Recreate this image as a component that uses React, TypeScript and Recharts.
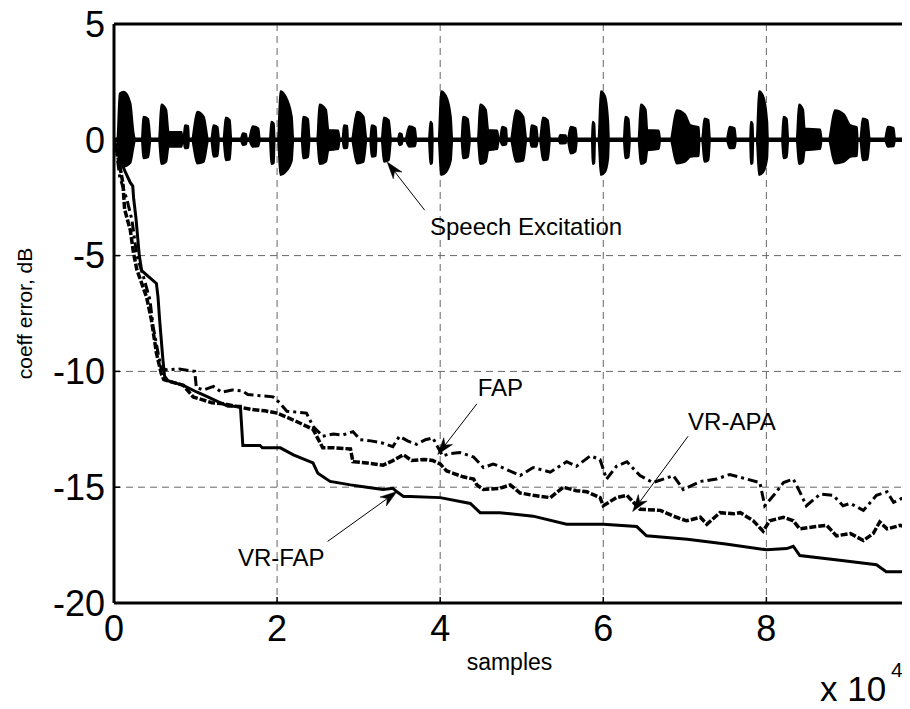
import React from 'react';
import {
  ComposedChart,
  Line,
  Area,
  XAxis,
  YAxis,
  CartesianGrid,
  ReferenceLine,
  ReferenceDot,
} from 'recharts';

// x in units of 1e4 samples, y in dB
const xTicks = [0, 2, 4, 6, 8];
const yTicks = [-20, -15, -10, -5, 0, 5];

// Speech excitation envelope: [x, upper, lower]
const speechEnvelope: [number, number, number][] = [
  [0.0, 0, 0],
  [0.04, 0, 0], [0.07, 2.0, -1.1], [0.12, 2.07, -1.16], [0.2, 1.6, -1.0], [0.24, 0.3, -0.3], [0.26, 0, 0],
  [0.34, 0, 0], [0.36, 0.99, -0.8], [0.42, 0.9, -0.75], [0.45, 0, 0],
  [0.55, 0, 0], [0.58, 1.52, -1.05], [0.64, 1.3, -0.95], [0.67, 0.34, -0.3], [0.83, 0.34, -0.3], [0.84, 0, 0],
  [0.85, 0, 0], [0.87, 0.63, -0.37], [0.91, 0.6, -0.35], [0.92, 0, 0],
  [0.95, 0, 0], [1.02, 1.21, -1.02], [1.1, 1.0, -0.95], [1.16, 0, 0],
  [1.19, 0, 0], [1.22, 0.63, -0.73], [1.27, 0.55, -0.7], [1.29, 0, 0],
  [1.34, 0, 0], [1.37, 0.96, -0.88], [1.42, 0.85, -0.85], [1.44, 0, 0],
  [1.55, 0, 0], [1.58, 0.28, -0.23], [1.62, 0.25, -0.2], [1.63, 0, 0],
  [1.65, 0, 0], [1.7, 0.59, -0.3], [1.77, 0.5, -0.28], [1.79, 0, 0],
  [1.91, 0, 0], [1.93, 0.78, -1.05], [1.96, 0.7, -1.0], [1.97, 0, 0],
  [2.01, 0, 0], [2.04, 2.1, -1.52], [2.1, 1.9, -1.4], [2.18, 1.0, -0.9], [2.2, 0, 0],
  [2.3, 0, 0], [2.32, 0.99, -0.8], [2.38, 0.9, -0.75], [2.4, 0, 0],
  [2.49, 0, 0], [2.52, 1.52, -1.05], [2.6, 1.3, -0.95], [2.63, 0.42, -0.45], [2.75, 0.4, -0.4], [2.77, 0, 0],
  [2.8, 0, 0], [2.82, 0.63, -0.37], [2.86, 0.6, -0.35], [2.87, 0, 0],
  [2.91, 0, 0], [2.98, 1.21, -1.02], [3.06, 1.0, -0.95], [3.1, 0, 0],
  [3.14, 0, 0], [3.16, 0.63, -0.73], [3.21, 0.55, -0.7], [3.22, 0, 0],
  [3.28, 0, 0], [3.31, 0.96, -0.95], [3.37, 0.85, -0.88], [3.4, 0, 0],
  [3.48, 0, 0], [3.5, 0.28, -0.23], [3.53, 0.25, -0.2], [3.54, 0, 0],
  [3.57, 0, 0], [3.62, 0.59, -0.3], [3.69, 0.5, -0.28], [3.71, 0, 0],
  [3.86, 0, 0], [3.88, 0.78, -1.05], [3.9, 0.7, -1.0], [3.91, 0, 0],
  [3.98, 0, 0], [4.01, 2.1, -1.52], [4.07, 1.9, -1.4], [4.13, 1.0, -0.9], [4.15, 0, 0],
  [4.26, 0, 0], [4.28, 0.99, -0.8], [4.34, 0.9, -0.75], [4.37, 0, 0],
  [4.46, 0, 0], [4.49, 1.52, -1.05], [4.56, 1.3, -0.95], [4.59, 0.42, -0.45], [4.7, 0.4, -0.4], [4.72, 0, 0],
  [4.73, 0, 0], [4.76, 0.56, -0.23], [4.81, 0.5, -0.2], [4.82, 0, 0],
  [4.86, 0, 0], [4.93, 1.28, -0.95], [5.02, 1.0, -0.9], [5.06, 0, 0],
  [5.1, 0, 0], [5.12, 0.63, -0.3], [5.18, 0.55, -0.3], [5.2, 0, 0],
  [5.22, 0, 0], [5.26, 0.96, -0.88], [5.32, 0.85, -0.85], [5.35, 0, 0],
  [5.45, 0, 0], [5.47, 0.21, -0.16], [5.54, 0.2, -0.15], [5.55, 0, 0],
  [5.56, 0, 0], [5.6, 0.56, -0.59], [5.66, 0.5, -0.5], [5.68, 0, 0],
  [5.86, 0, 0], [5.87, 0.78, -1.05], [5.89, 0.7, -1.0], [5.9, 0, 0],
  [5.94, 0, 0], [5.97, 2.1, -1.52], [6.02, 1.9, -1.4], [6.06, 0.8, -0.8], [6.07, 0, 0],
  [6.25, 0, 0], [6.27, 0.99, -0.8], [6.31, 0.9, -0.75], [6.33, 0, 0],
  [6.43, 0, 0], [6.46, 1.52, -1.05], [6.52, 1.3, -0.95], [6.54, 0.42, -0.45], [6.68, 0.4, -0.4], [6.7, 0, 0],
  [6.82, 0, 0], [6.9, 1.28, -1.02], [7.0, 1.1, -0.95], [7.07, 0.63, -0.73], [7.17, 0.55, -0.7], [7.18, 0, 0],
  [7.21, 0, 0], [7.24, 0.92, -0.95], [7.29, 0.85, -0.88], [7.31, 0, 0],
  [7.51, 0, 0], [7.55, 0.56, -0.37], [7.61, 0.5, -0.35], [7.63, 0, 0],
  [7.8, 0, 0], [7.81, 0.78, -1.05], [7.83, 0.7, -1.0], [7.84, 0, 0],
  [7.88, 0, 0], [7.91, 2.1, -1.52], [7.96, 1.9, -1.4], [8.01, 0.8, -0.8], [8.02, 0, 0],
  [8.19, 0, 0], [8.21, 0.99, -0.8], [8.25, 0.9, -0.75], [8.27, 0, 0],
  [8.37, 0, 0], [8.4, 1.52, -1.05], [8.45, 1.3, -0.95], [8.47, 0.49, -0.45], [8.66, 0.45, -0.4], [8.68, 0, 0],
  [8.76, 0, 0], [8.84, 1.28, -1.02], [8.95, 1.1, -0.95], [9.03, 0.63, -0.73], [9.11, 0.55, -0.7], [9.12, 0, 0],
  [9.15, 0, 0], [9.18, 0.92, -0.88], [9.24, 0.85, -0.85], [9.27, 0, 0],
  [9.45, 0, 0], [9.49, 0.56, -0.3], [9.56, 0.5, -0.28], [9.58, 0, 0],
  [9.7, 0, 0],
];

// VR-FAP (solid)
const vrFap: [number, number][] = [
  [0, 0], [0.03, -0.4], [0.08, -0.9], [0.14, -1.4], [0.2, -1.85], [0.23, -2.0], [0.24, -2.5],
  [0.27, -3.4], [0.31, -5.0], [0.34, -5.65], [0.42, -5.9], [0.52, -6.2], [0.54, -6.8], [0.56, -7.8],
  [0.6, -9.5], [0.62, -10.2], [0.66, -10.4], [0.85, -10.6], [1.02, -10.9], [1.15, -11.1], [1.3, -11.35],
  [1.4, -11.5], [1.55, -11.5], [1.58, -13.2], [1.79, -13.2], [1.82, -13.3], [2.04, -13.3], [2.2, -13.6],
  [2.44, -13.95], [2.5, -14.4], [2.65, -14.75], [2.9, -14.9], [3.1, -15.0], [3.3, -15.1], [3.42, -15.05],
  [3.47, -15.2], [3.55, -15.4], [3.63, -15.4], [4.0, -15.45], [4.37, -15.7], [4.49, -16.1], [4.73, -16.1],
  [5.14, -16.25], [5.55, -16.6], [6.0, -16.6], [6.41, -16.7], [6.53, -17.1], [7.03, -17.25], [7.5, -17.45],
  [8.0, -17.7], [8.25, -17.65], [8.33, -17.55], [8.41, -17.95], [8.9, -18.15], [9.35, -18.35], [9.47, -18.65],
  [9.7, -18.65],
];

// VR-APA (dashed)
const vrApa: [number, number][] = [
  [0, 0], [0.04, -0.6], [0.08, -1.3], [0.11, -1.9], [0.13, -3.0], [0.2, -3.9], [0.24, -4.9], [0.28, -5.6],
  [0.34, -6.2], [0.4, -6.8], [0.46, -7.8], [0.52, -9.2], [0.58, -10.1], [0.61, -10.35], [0.7, -10.45],
  [0.85, -10.6], [0.97, -11.1], [1.06, -11.2], [1.2, -11.35], [1.35, -11.4], [1.55, -11.55], [1.7, -11.65],
  [1.85, -11.7], [2.0, -11.8], [2.1, -11.95], [2.2, -12.1], [2.32, -12.3], [2.44, -12.5], [2.5, -12.9],
  [2.56, -13.3], [2.7, -13.3], [2.9, -13.35], [2.93, -13.9], [3.1, -13.95], [3.3, -14.05], [3.42, -13.85],
  [3.55, -13.6], [3.65, -13.85], [3.8, -13.8], [3.91, -13.85], [4.0, -14.0], [4.08, -14.3], [4.16, -14.4],
  [4.28, -14.55], [4.41, -14.65], [4.45, -14.9], [4.53, -15.1], [4.73, -15.05], [4.86, -14.9], [4.98, -15.25],
  [5.14, -15.35], [5.35, -15.45], [5.51, -15.0], [5.67, -15.15], [5.8, -15.2], [5.96, -15.45], [6.0, -15.8],
  [6.16, -15.45], [6.29, -15.35], [6.37, -15.65], [6.45, -15.95], [6.7, -16.0], [6.86, -16.25], [7.02, -16.45],
  [7.19, -16.3], [7.27, -16.6], [7.43, -16.1], [7.6, -16.15], [7.68, -16.1], [7.84, -16.45], [7.96, -16.9],
  [8.04, -16.45], [8.21, -16.3], [8.33, -16.45], [8.41, -16.8], [8.61, -16.7], [8.74, -16.65], [8.86, -17.1],
  [9.03, -17.0], [9.19, -17.3], [9.31, -17.0], [9.39, -16.5], [9.48, -16.8], [9.64, -16.65], [9.7, -16.7],
];

// FAP (dash-dot)
const fap: [number, number][] = [
  [0, 0], [0.03, -0.5], [0.07, -1.6], [0.16, -2.6], [0.22, -3.46], [0.28, -5.0], [0.36, -5.9], [0.44, -6.9],
  [0.48, -8.06], [0.54, -9.2], [0.58, -9.9], [0.65, -9.93], [0.8, -9.9], [0.99, -10.0], [1.01, -10.7],
  [1.1, -10.8], [1.22, -10.65], [1.32, -10.9], [1.45, -10.8], [1.58, -10.85], [1.64, -11.0], [1.8, -11.05],
  [1.95, -11.1], [2.03, -11.35], [2.12, -11.72], [2.36, -11.8], [2.44, -12.37], [2.56, -12.8], [2.69, -12.7],
  [2.8, -12.75], [2.93, -12.6], [3.02, -12.95], [3.15, -13.0], [3.3, -13.1], [3.42, -13.25], [3.5, -12.8],
  [3.6, -13.0], [3.71, -13.15], [3.82, -12.95], [3.91, -12.87], [4.03, -13.65], [4.12, -13.55], [4.24, -13.5],
  [4.41, -13.7], [4.53, -14.15], [4.65, -14.0], [4.73, -14.1], [4.98, -14.5], [5.14, -14.15], [5.35, -14.35],
  [5.55, -13.9], [5.67, -14.1], [5.84, -13.65], [5.96, -13.8], [6.04, -14.65], [6.16, -14.1], [6.29, -13.9],
  [6.45, -14.5], [6.61, -14.8], [6.86, -14.5], [6.98, -15.1], [7.19, -14.75], [7.39, -14.65], [7.55, -14.45],
  [7.76, -14.65], [7.92, -14.8], [7.98, -15.8], [8.09, -15.35], [8.21, -14.8], [8.33, -14.65], [8.41, -15.2],
  [8.49, -15.8], [8.66, -15.3], [8.82, -15.35], [8.94, -15.8], [9.03, -15.7], [9.19, -16.0], [9.35, -15.35],
  [9.48, -15.2], [9.56, -15.65], [9.68, -15.45],
];

// Annotations: label text, label anchor (x, y), arrow start, arrow tip
const annotations = [
  { text: 'Speech Excitation', at: [3.875, -3.74], from: [3.81, -3.04], to: [3.35, -0.96] },
  { text: 'FAP', at: [4.46, -10.7], from: [4.45, -11.4], to: [3.97, -13.59] },
  { text: 'VR-APA', at: [7.04, -12.16], from: [7.04, -12.8], to: [6.36, -16.05] },
  { text: 'VR-FAP', at: [1.52, -18.03], from: [2.62, -17.34], to: [3.47, -15.19] },
];

const FONT = '"Liberation Sans", Arial, Helvetica, sans-serif';

const speechData = speechEnvelope.map(([x, hi, lo]) => ({ x, range: [lo, hi] }));
const toXY = (pts: [number, number][]) => pts.map(([x, y]) => ({ x, y }));

const ArrowShape = (p: any) => {
  const { x1, y1, x2, y2 } = p;
  const dx = x2 - x1;
  const dy = y2 - y1;
  const L = Math.hypot(dx, dy) || 1;
  const ux = dx / L;
  const uy = dy / L;
  const hl = 17;
  const hw = 5.5;
  const bx = x2 - ux * hl;
  const by = y2 - uy * hl;
  const nx = x2 - ux * hl * 0.7;
  const ny = y2 - uy * hl * 0.7;
  const pts = `${x2},${y2} ${bx - uy * hw},${by + ux * hw} ${nx},${ny} ${bx + uy * hw},${by - ux * hw}`;
  return (
    <g>
      <line x1={x1} y1={y1} x2={nx} y2={ny} stroke="#000" strokeWidth={1} />
      <polygon points={pts} fill="#000" stroke="#000" strokeWidth={0.5} />
    </g>
  );
};

const makeTextShape = (text: string) => (p: any) => (
  <text
    x={p.cx}
    y={p.cy}
    dominantBaseline="central"
    textAnchor="start"
    fontSize={24}
    fontFamily={FONT}
    fill="#000"
  >
    {text}
  </text>
);

const XLabel = (props: any) => {
  const vb = props.viewBox || {};
  const cx = vb.x + vb.width / 2;
  const top = vb.y;
  return (
    <g fontFamily={FONT} fill="#000">
      <text x={cx} y={top + 67} textAnchor="middle" fontSize={23}>samples</text>
      <text x={812} y={top + 98} textAnchor="start" fontSize={35}>x 10</text>
      <text x={883} y={top + 74} textAnchor="start" fontSize={21}>4</text>
    </g>
  );
};

const YLabel = (props: any) => {
  const vb = props.viewBox || {};
  const cx = 16;
  const cy = vb.y + vb.height / 2;
  return (
    <text
      x={cx}
      y={cy}
      transform={`rotate(-90, ${cx}, ${cy})`}
      textAnchor="middle"
      dominantBaseline="central"
      fontSize={21}
      fontFamily={FONT}
      fill="#000"
    >
      coeff error, dB
    </text>
  );
};

const tickStyle = { fontSize: 36, fill: '#000', fontFamily: FONT };
const axisLineStyle = { stroke: '#000', strokeWidth: 3 };
const tickLineStyle = { stroke: '#000', strokeWidth: 1.5 };

export default function App() {
  return (
    <div style={{ width: 900, height: 709, marginTop: -8, fontFamily: FONT, background: '#fff' }}>
      <ComposedChart
        width={900}
        height={709}
        margin={{ top: 23, right: 2, bottom: 0, left: 0 }}
      >
        <CartesianGrid stroke="#666" strokeDasharray="7 5" strokeWidth={1} />
        <XAxis
          dataKey="x"
          type="number"
          domain={[0, 9.7]}
          ticks={xTicks}
          interval={0}
          allowDataOverflow
          height={106}
          tick={tickStyle}
          tickSize={-6}
          tickMargin={18}
          axisLine={axisLineStyle}
          tickLine={tickLineStyle}
          label={{ content: XLabel }}
        />
        <XAxis
          xAxisId="top"
          orientation="top"
          dataKey="x"
          type="number"
          domain={[0, 9.7]}
          ticks={xTicks}
          interval={0}
          allowDataOverflow
          height={1}
          tick={false}
          tickSize={-6}
          axisLine={axisLineStyle}
          tickLine={tickLineStyle}
        />
        <YAxis
          type="number"
          domain={[-20, 5]}
          ticks={yTicks}
          interval={0}
          allowDataOverflow
          width={106}
          tick={tickStyle}
          tickSize={-6}
          tickMargin={15}
          axisLine={axisLineStyle}
          tickLine={tickLineStyle}
          label={{ content: YLabel }}
        />
        <YAxis
          yAxisId="right"
          orientation="right"
          type="number"
          domain={[-20, 5]}
          ticks={yTicks}
          interval={0}
          allowDataOverflow
          width={1}
          tick={false}
          tickSize={-6}
          axisLine={axisLineStyle}
          tickLine={tickLineStyle}
        />
        <Area
          data={speechData}
          dataKey="range"
          type="monotone"
          fill="#000"
          fillOpacity={1}
          stroke="#000"
          strokeWidth={2}
          isAnimationActive={false}
          dot={false}
          activeDot={false}
        />
        <ReferenceLine y={0} stroke="#000" strokeWidth={4.5} />
        <Line
          data={toXY(fap)}
          dataKey="y"
          type="linear"
          stroke="#000"
          strokeWidth={3}
          strokeDasharray="10 4 3 4"
          dot={false}
          activeDot={false}
          isAnimationActive={false}
        />
        <Line
          data={toXY(vrApa)}
          dataKey="y"
          type="linear"
          stroke="#000"
          strokeWidth={3.5}
          strokeDasharray="7 2"
          dot={false}
          activeDot={false}
          isAnimationActive={false}
        />
        <Line
          data={toXY(vrFap)}
          dataKey="y"
          type="linear"
          stroke="#000"
          strokeWidth={3}
          dot={false}
          activeDot={false}
          isAnimationActive={false}
        />
        {annotations.map((a) => (
          <ReferenceLine
            key={'arrow-' + a.text}
            segment={[
              { x: a.from[0], y: a.from[1] },
              { x: a.to[0], y: a.to[1] },
            ]}
            shape={ArrowShape}
            ifOverflow="visible"
          />
        ))}
        {annotations.map((a) => (
          <ReferenceDot
            key={'label-' + a.text}
            x={a.at[0]}
            y={a.at[1]}
            r={0}
            shape={makeTextShape(a.text)}
            ifOverflow="visible"
          />
        ))}
      </ComposedChart>
    </div>
  );
}
